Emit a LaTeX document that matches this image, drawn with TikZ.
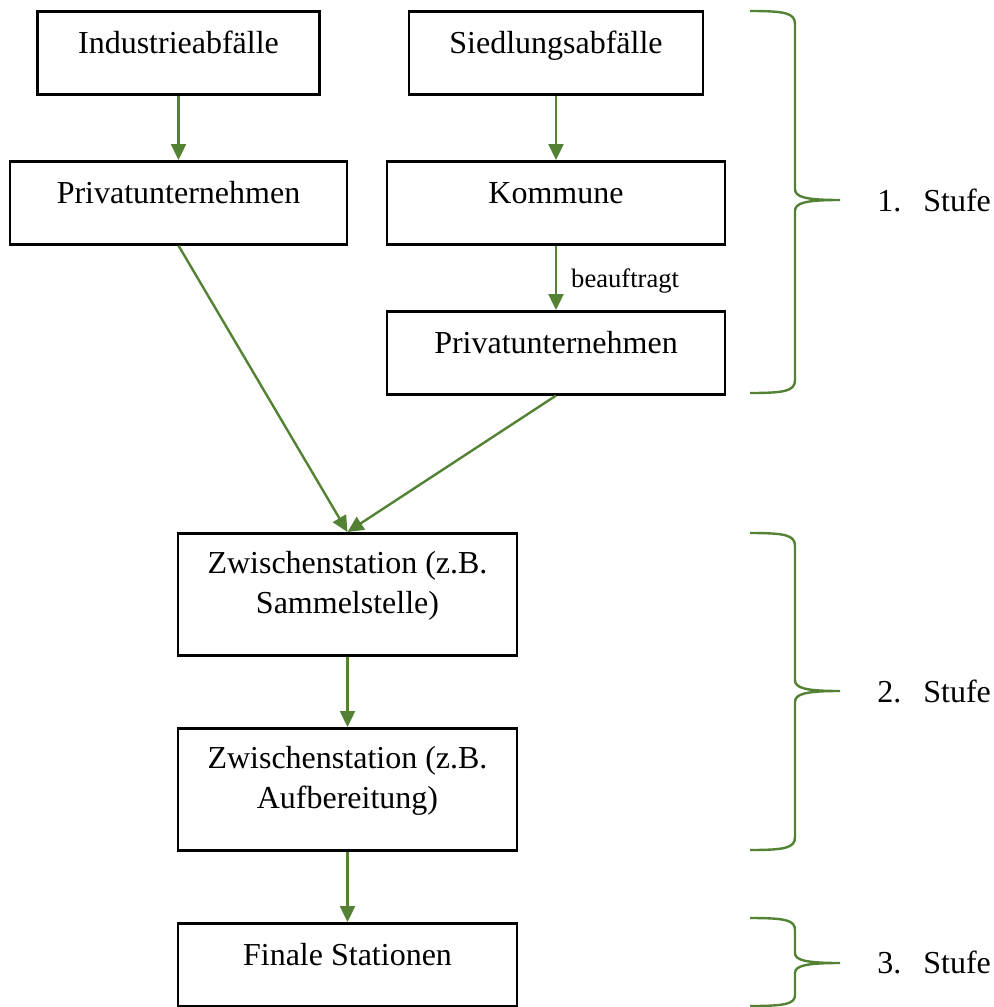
\documentclass[tikz,border=0pt]{standalone}
\usepackage{fontspec}
\setmainfont{Liberation Serif}
\usetikzlibrary{arrows.meta}
\definecolor{arrowgreen}{RGB}{84,130,53}
\begin{document}
\begin{tikzpicture}[x=0.5pt,y=-0.5pt,
	box/.style={draw,line width=1.3pt,anchor=north,inner xsep=0pt,inner ysep=0pt,
		align=center,font=\fontsize{16}{20}\selectfont,text height=21pt,text depth=20.5pt},
	twobox/.style={box,text height=40pt,text depth=21pt},
	flow/.style={arrowgreen,line width=1.2pt,-{Triangle[length=8pt,width=7.5pt]}},
	brace/.style={arrowgreen,line width=1.2pt},
	stufe/.style={anchor=base west,inner sep=0pt,font=\fontsize{16}{20}\selectfont}]
	\useasboundingbox (0,0) rectangle (994,1007);
	% stufe 1
	\node[box,minimum width=141pt] (ind) at (178.5,10) {Industrieabfälle};
	\node[box,minimum width=147pt] (sied) at (556,10) {Siedlungsabfälle};
	\node[box,minimum width=168.5pt] (privl) at (178.5,160) {Privatunternehmen};
	\node[box,minimum width=169pt] (komm) at (556,160) {Kommune};
	\node[box,minimum width=169pt] (privr) at (556,310) {Privatunternehmen};
	% stufe 2 und 3
	\node[twobox,minimum width=169.5pt] (zw1) at (347.5,532) {Zwischenstation (z.B.\\Sammelstelle)};
	\node[twobox,minimum width=169.5pt] (zw2) at (347.5,727) {Zwischenstation (z.B.\\Aufbereitung)};
	\node[box,minimum width=169.5pt] (fin) at (347.5,922) {Finale Stationen};
	\draw[flow] (ind) -- (privl);
	\draw[flow] (sied) -- (komm);
	\draw[flow] (komm) -- node[anchor=base west,inner sep=0pt,xshift=7pt,pos=0.65,text=black,
		font=\fontsize{13.3}{16}\selectfont] {beauftragt} (privr);
	\draw[flow] (privl.south) -- (zw1.north);
	\draw[flow] (privr.south) -- (zw1.north);
	\draw[flow] (zw1) -- (zw2);
	\draw[flow] (zw2) -- (fin);
	% klammern
	\draw[brace] (750,11) .. controls (785,11) and (795,13) .. (795,24) -- (795,189)
		.. controls (795,197) and (805,200) .. (840,200)
		.. controls (805,200) and (795,203) .. (795,211) -- (795,380)
		.. controls (795,391) and (785,393) .. (750,393);
	\draw[brace] (750,533) .. controls (785,533) and (795,535) .. (795,546) -- (795,680)
		.. controls (795,688) and (805,691) .. (840,691)
		.. controls (805,691) and (795,694) .. (795,702) -- (795,837)
		.. controls (795,848) and (785,850) .. (750,850);
	\draw[brace] (750,918) .. controls (785,918) and (795,920) .. (795,930) -- (795,953)
		.. controls (795,960) and (805,963) .. (840,963)
		.. controls (805,963) and (795,966) .. (795,973) -- (795,995)
		.. controls (795,1004) and (785,1006) .. (750,1006);
	\node[stufe] (s1) at (877,211) {\makebox[23pt][l]{1.}Stufe};
	\node[stufe] (s2) at (877,702) {\makebox[23pt][l]{2.}Stufe};
	\node[stufe] (s3) at (877,973) {\makebox[23pt][l]{3.}Stufe};
\end{tikzpicture}
\end{document}
